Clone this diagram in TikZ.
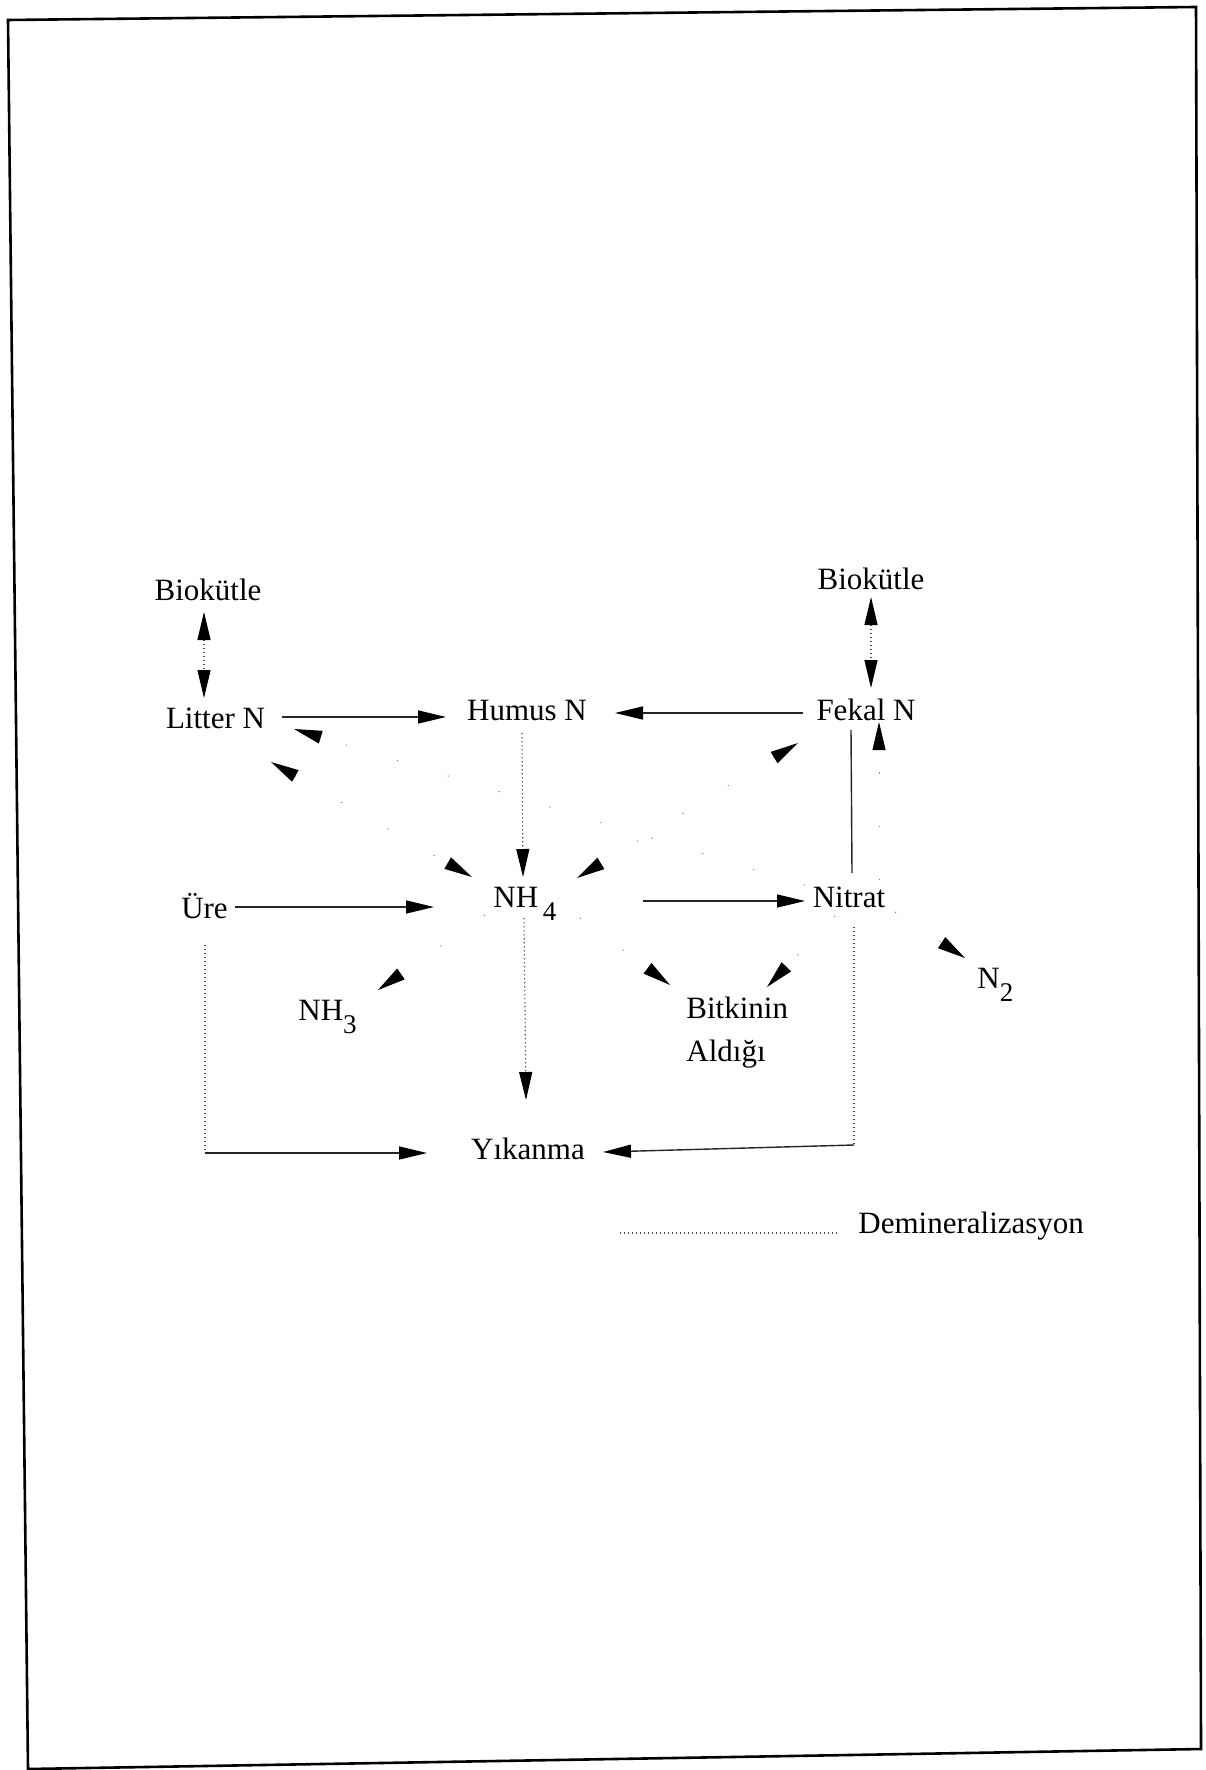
\documentclass[tikz,border=0pt]{standalone}
\usepackage{fontspec}
\setmainfont{Liberation Serif}
\usetikzlibrary{arrows.meta,calc}
\newcommand\lowsub[1]{\raisebox{-0.42em}{\fontsize{13.5}{13.5}\selectfont #1}}
\begin{document}
\begin{tikzpicture}[x=0.5pt,y=-0.5pt,
  >={Triangle[length=14pt,width=6.5pt,color=black]},
  lbl/.style={inner sep=0pt,anchor=base,font=\fontsize{15.5}{21.5}\selectfont},
  lblw/.style={lbl,anchor=base west},
  flow/.style={draw=black!85,line width=0.7pt},
  dem/.style={draw=black!70,line width=0.55pt,dash pattern=on 0.7pt off 1.3pt},
  faint/.style={draw=black!45,line width=0.5pt,dash pattern=on 0.6pt off 26pt}]
\useasboundingbox (0,0) rectangle (1205,1770);

% page frame
\draw[line width=1.3pt] (8,20) -- (1196,7) -- (1201,1749) -- (28,1769) -- cycle;

% pools
\node[lbl]  (bioL)   at (208,600)   {Biokütle};
\node[lbl]  (litter) at (215.5,728) {Litter N};
\node[lbl]  (humus)  at (527,720)   {Humus N};
\node[lbl]  (bioR)   at (871,589)   {Biokütle};
\node[lbl]  (fekal)  at (866,720)   {Fekal N};
\node[lbl]  (ure)    at (204.5,918) {Üre};
\node[lblw] (nh4)    at (493,907)   {NH\hspace{0.15em}\lowsub{4}};
\node[lbl]  (nitrat) at (849,907)   {Nitrat};
\node[lblw] (nh3)    at (298,1020)  {NH\lowsub{3}};
\node[lblw] (n2)     at (977,988)   {N\lowsub{2}};
% two-line label: its base anchor sits on the second line
\node[lblw,align=left] (bitki) at (686,1061) {Bitkinin\\Aldığı};
\node[lbl]  (yik)    at (528,1159)  {Yıkanma};
\node[lblw] (leg)    at (858,1233)  {Demineralizasyon};

% biomass exchange
\draw[dem,<->] ($(bioL.base)+(-4,12)$) -- ($(litter.base)+(-11.5,-30)$);
\draw[dem,<->] ($(bioR.base)+(0,8)$) -- ($(fekal.base)+(5,-32)$);

% organic pools to humus
\draw[flow,->] ($(litter.base)+(66.5,-11)$) -- ($(humus.base)+(-81,-3)$);
\draw[flow,->] ($(fekal.base)+(-63,-7)$) -- ($(humus.base)+(88,-7)$);

% mineralisation / immobilisation around NH4
\draw[dem,->] ($(humus.base)+(-5,13)$) -- ($(nh4.base west)+(30,-30)$);
\draw[faint,<->] ($(litter.base)+(55.5,34)$) -- ($(nh4.base west)+(-21,-30)$);
\draw[faint,<->] ($(fekal.base)+(-68,23)$) -- ($(nh4.base west)+(84,-29)$);
\draw[faint,->] ($(nitrat.base)+(-44,-22)$) -- ($(litter.base)+(78.5,1)$);
\draw[faint,->] ($(nitrat.base)+(30,-27)$) -- ($(fekal.base)+(13,2)$);
\draw[flow] ($(fekal.base)+(-15,10)$) -- ($(nitrat.base)+(3,-34)$);

% mineral nitrogen flows
\draw[flow,->] ($(ure.base)+(30.5,-11)$) -- ($(nh4.base west)+(-59,0)$);
\draw[flow,->] ($(nh4.base west)+(150,-6)$) -- ($(nitrat.base)+(-44,-6)$);
\draw[faint,->] ($(nh4.base west)+(-8,8)$) -- ($(nh3.base west)+(80,-30)$);
\draw[faint,->] ($(nh4.base west)+(87,11)$) -- ($(bitki.base west)+(-16,-76)$);
\draw[faint,->] ($(nitrat.base)+(-14,9)$) -- ($(bitki.base west)+(81,-74)$);
\draw[faint,->] ($(nitrat.base)+(46,5)$) -- ($(n2.base west)+(-12,-30)$);

% leaching
\draw[dem,->] ($(nh4.base west)+(31,11)$) -- ($(yik.base)+(-2,-59)$);
\coordinate (ureC) at ($(ure.base)+(0.5,235)$);
\draw[dem] ($(ure.base)+(0.5,27)$) -- (ureC);
\draw[flow,->] (ureC) -- ($(yik.base)+(-101,-6)$);
\coordinate (nitC) at ($(nitrat.base)+(5,238)$);
\draw[dem] ($(nitrat.base)+(5,20)$) -- (nitC);
\draw[flow,->] (nitC) -- ($(yik.base)+(75,-7)$);

% legend
\draw[dem] ($(leg.base west)+(-238,0)$) -- ($(leg.base west)+(-21,0)$);
\end{tikzpicture}
\end{document}
